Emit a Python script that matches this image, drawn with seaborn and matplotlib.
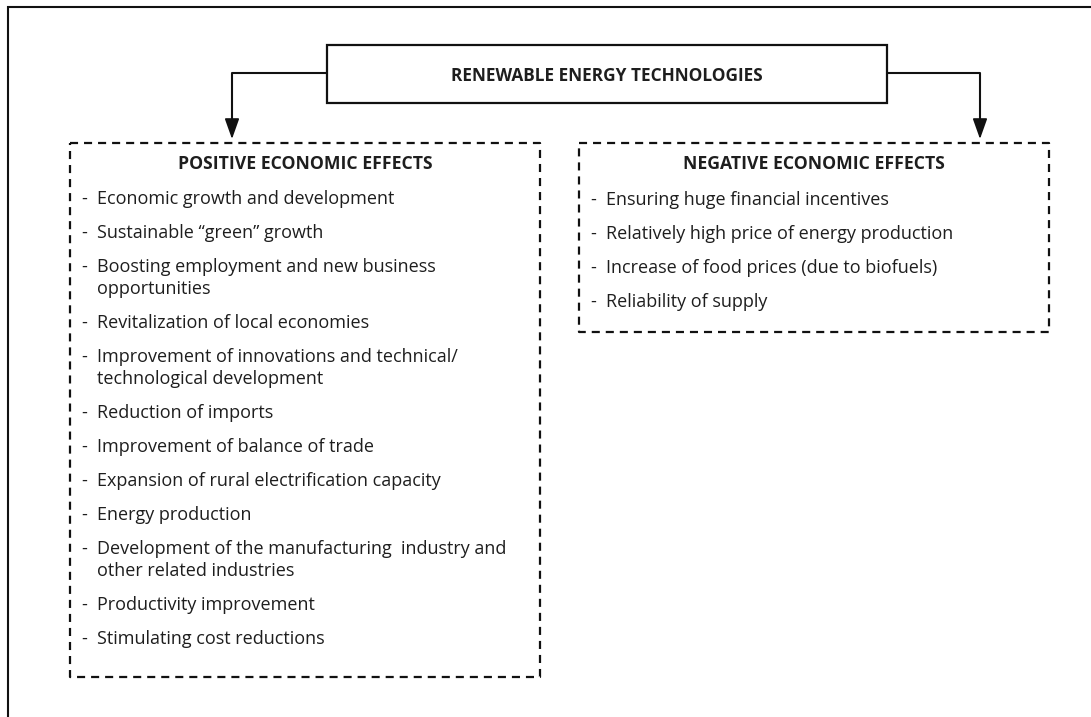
import matplotlib
matplotlib.use("Agg")
import matplotlib.pyplot as plt
import seaborn as sns
from matplotlib.patches import Rectangle, FancyArrowPatch

sns.set_theme(style="white")
plt.rcParams["font.family"] = ["Open Sans", "DejaVu Sans"]
plt.rcParams["lines.scale_dashes"] = False

# ---- content ----
title_text = "RENEWABLE ENERGY TECHNOLOGIES"
positive_header = "POSITIVE ECONOMIC EFFECTS"
negative_header = "NEGATIVE ECONOMIC EFFECTS"
positive_items = [
    "Economic growth and development",
    "Sustainable \u201cgreen\u201d growth",
    "Boosting employment and new business\nopportunities",
    "Revitalization of local economies",
    "Improvement of innovations and technical/\ntechnological development",
    "Reduction of imports",
    "Improvement of balance of trade",
    "Expansion of rural electrification capacity",
    "Energy production",
    "Development of the manufacturing  industry and\nother related industries",
    "Productivity improvement",
    "Stimulating cost reductions",
]
negative_items = [
    "Ensuring huge financial incentives",
    "Relatively high price of energy production",
    "Increase of food prices (due to biofuels)",
    "Reliability of supply",
]

W, H = 1091, 717
fig = plt.figure(figsize=(W / 100, H / 100), dpi=100)
ax = fig.add_axes([0, 0, 1, 1])
ax.set_xlim(0, W)
ax.set_ylim(H, 0)
ax.axis("off")

ink = "#111111"
txt = "#1e1e1e"

# outer frame (left + top)
ax.plot([8, 8, W], [H, 7, 7], color=ink, lw=1.5, solid_joinstyle="miter")

# title box
tb = (327, 45, 887, 103)
ax.add_patch(Rectangle((tb[0], tb[1]), tb[2] - tb[0], tb[3] - tb[1],
                       fill=False, ec=ink, lw=1.6))
ax.text((tb[0] + tb[2]) / 2, (tb[1] + tb[3]) / 2 + 2, title_text,
        ha="center", va="center", fontsize=12.4, fontweight="bold", color=txt)

# boxes
left_box = (70, 143, 540, 677)
right_box = (579, 143, 1049, 332)
for (x0, y0, x1, y1) in (left_box, right_box):
    ax.plot([x0, x1, x1, x0, x0], [y0, y0, y1, y1, y0], color=ink, lw=1.6,
            dashes=(5.8, 4.3))

# connectors with arrows
def connector(xs, ys):
    ax.plot(xs[:-1] + [xs[-1]], ys[:-1] + [ys[-1] - 12], color=ink, lw=1.5)
    arr = FancyArrowPatch((xs[-1], ys[-1] - 14), (xs[-1], ys[-1]),
                          arrowstyle="-|>,head_length=0.9,head_width=0.32",
                          mutation_scale=14, color=ink, lw=1.2,
                          shrinkA=0, shrinkB=0)
    ax.add_patch(arr)

connector([tb[0], 232, 232], [73, 73, 139])
connector([tb[2], 980, 980], [73, 73, 139])

# headers
ax.text((left_box[0] + left_box[2]) / 2, 164, positive_header, ha="center",
        va="center", fontsize=12.7, fontweight="bold", color=txt)
ax.text((right_box[0] + right_box[2]) / 2, 164, negative_header, ha="center",
        va="center", fontsize=12.7, fontweight="bold", color=txt)

fs = 13
def draw_items(items, x_dash, x_text, y_start):
    y = y_start
    for item in items:
        lines = item.split("\n")
        ax.text(x_dash, y, "-", ha="left", va="center", fontsize=fs, color=txt)
        for k, line in enumerate(lines):
            ax.text(x_text, y + 22 * k, line, ha="left", va="center",
                    fontsize=fs, color=txt)
        y += 34 + 22 * (len(lines) - 1)

draw_items(positive_items, 81, 97, 199)
draw_items(negative_items, 590, 606, 200)

fig.savefig("out.png", dpi=100, facecolor="white")
